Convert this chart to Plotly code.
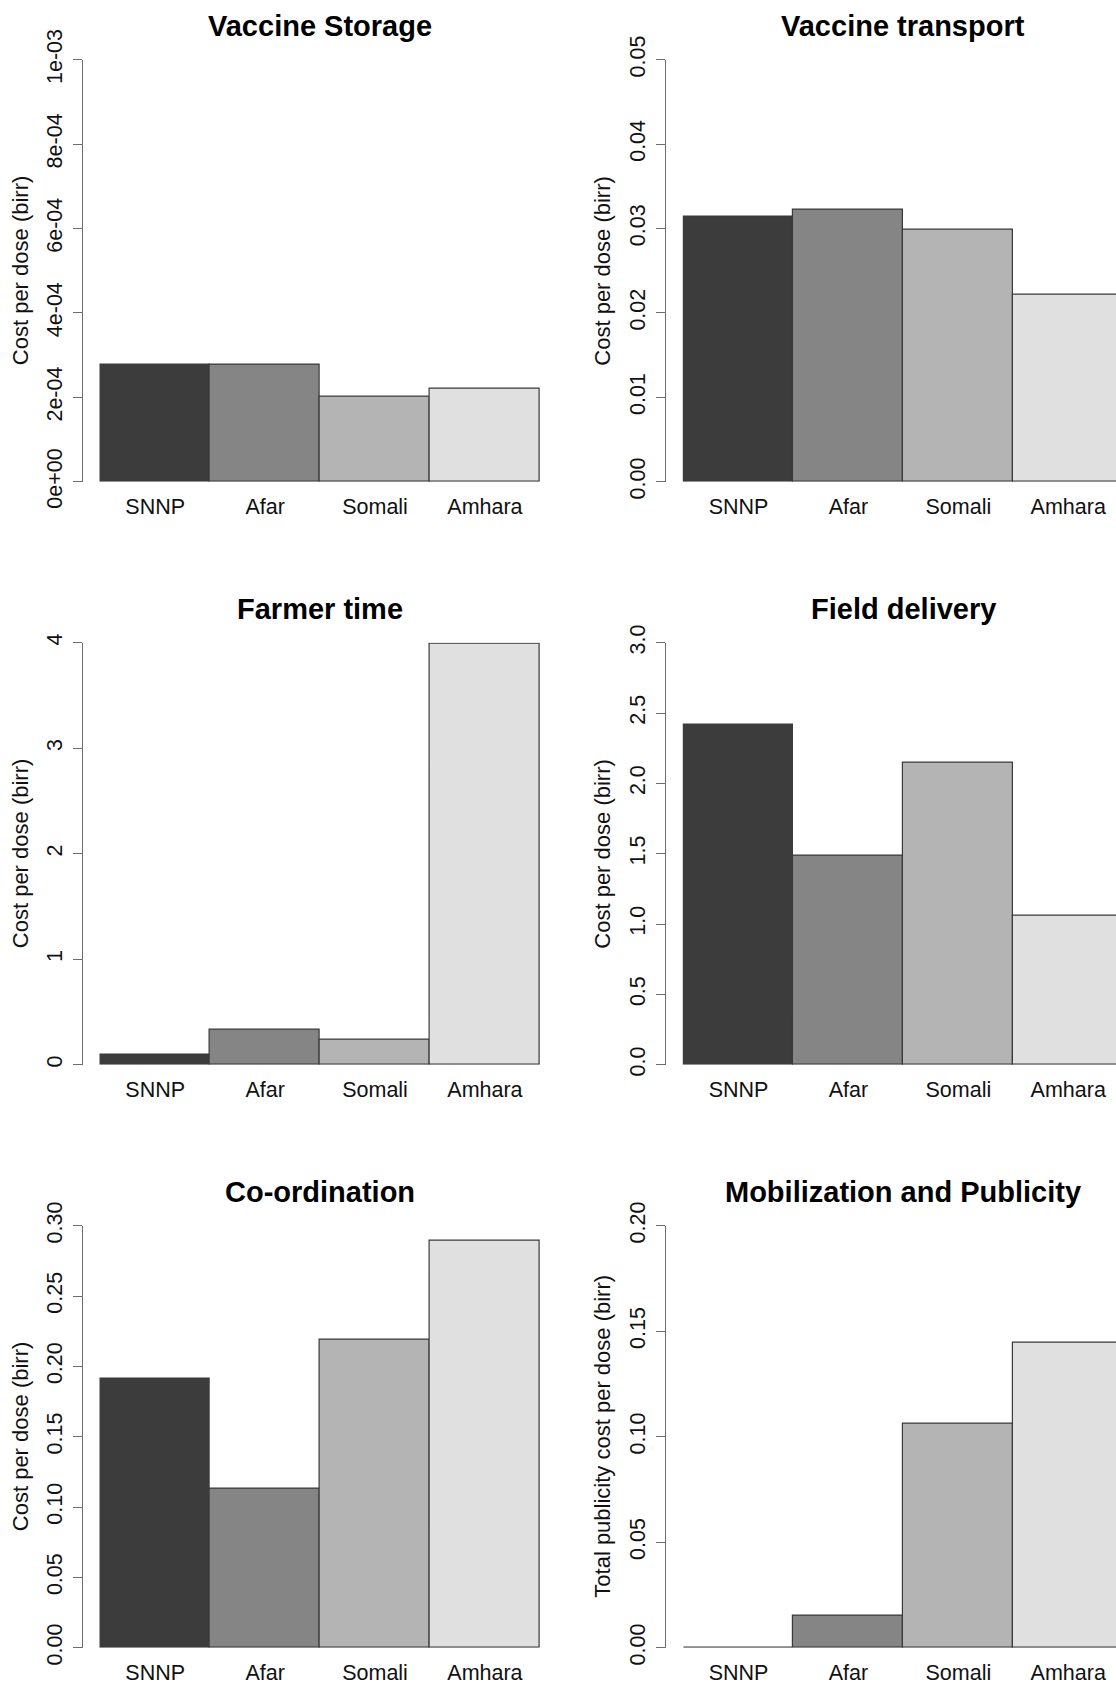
import plotly.graph_objects as go

# ---------------- data ----------------
regions = ["SNNP", "Afar", "Somali", "Amhara"]
bar_colors = ["#3c3c3c", "#858585", "#b4b4b4", "#e0e0e0"]

titles = ["Vaccine Storage", "Vaccine transport", "Farmer time",
          "Field delivery", "Co-ordination", "Mobilization and Publicity"]
ylabels = ["Cost per dose (birr)", "Cost per dose (birr)", "Cost per dose (birr)",
           "Cost per dose (birr)", "Cost per dose (birr)",
           "Total publicity cost per dose (birr)"]

storage = [2.77e-4, 2.77e-4, 2.02e-4, 2.21e-4]
transport = [0.0314, 0.0322, 0.0298, 0.0222]
farmer = [0.098, 0.336, 0.238, 3.99]
field = [2.417, 1.487, 2.148, 1.06]
coord = [0.191, 0.113, 0.219, 0.289]
mobil = [0.0, 0.0154, 0.1064, 0.1447]

storage_ticks = [0, 2e-4, 4e-4, 6e-4, 8e-4, 1e-3]
storage_ticktext = ["0e+00", "2e-04", "4e-04", "6e-04", "8e-04", "1e-03"]
transport_ticks = [0, 0.01, 0.02, 0.03, 0.04, 0.05]
transport_ticktext = ["0.00", "0.01", "0.02", "0.03", "0.04", "0.05"]
farmer_ticks = [0, 1, 2, 3, 4]
farmer_ticktext = ["0", "1", "2", "3", "4"]
field_ticks = [0, 0.5, 1.0, 1.5, 2.0, 2.5, 3.0]
field_ticktext = ["0.0", "0.5", "1.0", "1.5", "2.0", "2.5", "3.0"]
coord_ticks = [0, 0.05, 0.10, 0.15, 0.20, 0.25, 0.30]
coord_ticktext = ["0.00", "0.05", "0.10", "0.15", "0.20", "0.25", "0.30"]
mobil_ticks = [0, 0.05, 0.10, 0.15, 0.20]
mobil_ticktext = ["0.00", "0.05", "0.10", "0.15", "0.20"]

series = [storage, transport, farmer, field, coord, mobil]
ticks = [storage_ticks, transport_ticks, farmer_ticks, field_ticks, coord_ticks, mobil_ticks]
ticktexts = [storage_ticktext, transport_ticktext, farmer_ticktext,
             field_ticktext, coord_ticktext, mobil_ticktext]

# ---------------- layout geometry (pixels) ----------------
W, H = 1116, 1684
FONT = "Liberation Sans, Arial, Helvetica, sans-serif"
unit_px = 109.9              # width of one bar
pad_units = 0.16             # gap between axis line and first bar (R's 4 % extension)
col_axis_px = [82.7, 666.0]  # x of y-axis line in each column
row_zero_px = [481.7, 1064.7, 1647.7]
row_top_px = [59.7, 642.7, 1225.7]
title_px = [25.5, 608.5, 1191.5]
ylab_px = [20.5, 603.0]

fig = go.Figure()
layout = dict(
    width=W, height=H,
    margin=dict(l=0, r=0, t=0, b=0, pad=0, autoexpand=False),
    paper_bgcolor="white", plot_bgcolor="white",
    showlegend=False, bargap=0,
    font=dict(family=FONT, color="#111111"),
)
annotations = []
n_cat = len(regions)
span_units = n_cat + 2 * pad_units   # full plot-region width in data units

for i, vals in enumerate(series):
    row, col = divmod(i, 2)
    n = i + 1
    xa = "x" if n == 1 else f"x{n}"
    ya = "y" if n == 1 else f"y{n}"
    fig.add_trace(go.Bar(
        x=list(range(n_cat)), y=vals, width=1.0,
        marker=dict(color=bar_colors, line=dict(color="#3a3a3a", width=1.2)),
        xaxis=xa, yaxis=ya, hoverinfo="skip",
    ))
    x0 = col_axis_px[col]
    full_x1 = x0 + span_units * unit_px
    x1 = min(W, full_x1)
    xr0 = -0.5 - pad_units
    xr1 = xr0 + (x1 - x0) / unit_px
    layout["xaxis" if n == 1 else f"xaxis{n}"] = dict(
        domain=[x0 / W, x1 / W], range=[xr0, xr1], anchor=ya,
        tickvals=list(range(n_cat)), ticktext=regions,
        showline=False, showgrid=False, zeroline=False, ticks="",
        tickfont=dict(size=21.5, family=FONT, color="#111111"),
        ticklabelstandoff=10, fixedrange=True, automargin=False,
    )
    y0 = 1 - row_zero_px[row] / H
    y1 = 1 - row_top_px[row] / H
    layout["yaxis" if n == 1 else f"yaxis{n}"] = dict(
        domain=[y0, y1], range=[ticks[i][0], ticks[i][-1]], anchor=xa,
        tickvals=ticks[i], ticktext=ticktexts[i], tickangle=-90,
        showline=True, linecolor="#6e6e6e", linewidth=1.2,
        ticks="outside", ticklen=9, tickcolor="#6e6e6e", tickwidth=1.2,
        showgrid=False, zeroline=False,
        tickfont=dict(size=21.5, family=FONT, color="#111111"),
        ticklabelstandoff=2, fixedrange=True, automargin=False,
    )
    annotations.append(dict(
        text=f"<b>{titles[i]}</b>", xref="paper", yref="paper",
        x=(x0 + full_x1) / 2 / W,
        y=1 - title_px[row] / H, xanchor="center", yanchor="middle",
        showarrow=False, font=dict(size=29, family=FONT, color="#000000"),
    ))
    annotations.append(dict(
        text=ylabels[i], xref="paper", yref="paper",
        x=ylab_px[col] / W, y=1 - (row_zero_px[row] + row_top_px[row]) / 2 / H,
        xanchor="center", yanchor="middle", textangle=-90,
        showarrow=False, font=dict(size=22, family=FONT, color="#111111"),
    ))

layout["annotations"] = annotations
fig.update_layout(**layout)
fig.write_html("out.html")
